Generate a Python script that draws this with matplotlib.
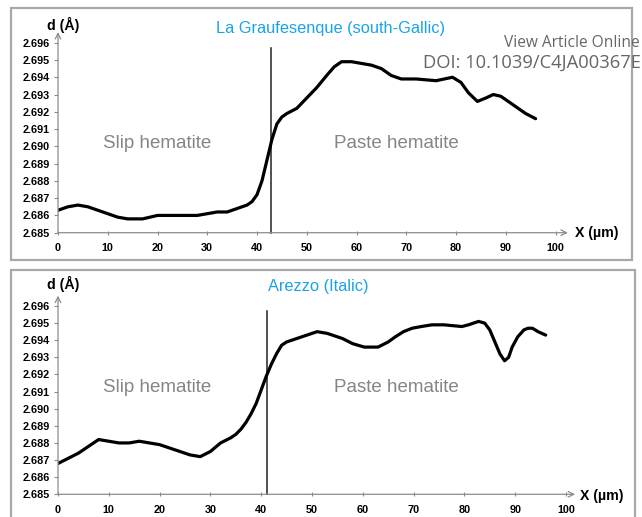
import matplotlib
matplotlib.use('Agg')
import matplotlib.pyplot as plt
from matplotlib.patches import Rectangle

plt.rcParams['font.family'] = ['Liberation Sans', 'DejaVu Sans']

# La Graufesenque (south-Gallic)
x_top = [0, 2, 4, 6, 8, 10, 12, 14, 17, 20, 24, 28, 30, 32, 34, 36, 38, 39, 40,
         41, 42, 43, 44, 45, 46, 48, 50, 52, 54, 55.5, 57, 59, 61, 63, 65, 67,
         69, 72, 76, 79.3, 81, 82.5, 84.3, 86, 87.5, 89, 90.5, 92, 94, 96]
d_top = [2.6863, 2.6865, 2.6866, 2.6865, 2.6863, 2.6861, 2.6859, 2.6858, 2.6858,
         2.6860, 2.6860, 2.6860, 2.6861, 2.6862, 2.6862, 2.6864, 2.6866, 2.6868, 2.6872,
         2.6880, 2.6892, 2.6904, 2.6913, 2.6917, 2.6919, 2.6922, 2.6928, 2.6934, 2.6941,
         2.6946, 2.6949, 2.6949, 2.6948, 2.6947, 2.6945, 2.6941,
         2.6939, 2.6939, 2.6938, 2.6940, 2.6937, 2.6931, 2.6926, 2.6928, 2.6930,
         2.6929, 2.6926, 2.6923, 2.6919, 2.6916]

# Arezzo (Italic)
x_bot = [0, 2, 4, 6, 8, 10, 12, 14, 16, 18, 20, 22, 24, 26, 28, 30, 32, 34, 35,
         36, 37, 38, 39, 40, 41, 42, 43, 44, 45, 47, 49, 51, 53, 56, 58, 60.3, 63,
         65, 66.4, 68, 69.7, 71.5, 73.6, 76, 79.5, 80.8, 82.8, 84, 85, 86, 87,
         87.9, 88.7, 89.4, 90.5, 91.7, 92.5, 93.4, 94.5, 96]
d_bot = [2.6868, 2.6871, 2.6874, 2.6878, 2.6882, 2.6881, 2.6880, 2.6880, 2.6881,
         2.6880, 2.6879, 2.6877, 2.6875, 2.6873, 2.6872, 2.6875, 2.6880, 2.6883, 2.6885,
         2.6888, 2.6892, 2.6897, 2.6903, 2.6911, 2.6919, 2.6926, 2.6932, 2.6937, 2.6939,
         2.6941, 2.6943, 2.6945, 2.6944, 2.6941, 2.6938, 2.6936, 2.6936,
         2.6939, 2.6942, 2.6945, 2.6947, 2.6948, 2.6949, 2.6949, 2.6948, 2.6949, 2.6951,
         2.6950, 2.6946, 2.6939, 2.6932,
         2.6928, 2.6930, 2.6936, 2.6942, 2.6946, 2.6947, 2.6947, 2.6945, 2.6943]

boundaries = [42.8, 41.2]
titles = ['La Graufesenque (south-Gallic)', 'Arezzo (Italic)']
yticks = [2.685 + 0.001 * i for i in range(12)]
xticks = list(range(0, 101, 10))

W, H = 642, 517
fig = plt.figure(figsize=(W / 100, H / 100), dpi=100)

def px(x0, y0, x1, y1):
    # pixel box (top-left origin) -> figure fraction
    return [x0 / W, 1 - y1 / H, (x1 - x0) / W, (y1 - y0) / H]

# panel frames
for (x0, y0, x1, y1) in [(11, 8, 632, 260), (11, 270, 635, 530)]:
    fig.patches.append(Rectangle((x0 / W, 1 - y1 / H), (x1 - x0) / W, (y1 - y0) / H,
                                 transform=fig.transFigure, fill=False,
                                 edgecolor='#a8a8a8', lw=1.6))

panels = [
    dict(box=(58, 42.7, 555.5, 232.7), x=x_top, d=d_top, xtip=1.025, ytip=1.056,
         title_x=331, title_y=28, text_y=143, dlab_y=25, xlab=(597, 233)),
    dict(box=(58, 306, 566, 494.3), x=x_bot, d=d_bot, xtip=1.018, ytip=1.055,
         title_x=318, title_y=287, text_y=387, dlab_y=284, xlab=(602, 496)),
]

grey = '#8c8c8c'
for i, p in enumerate(panels):
    ax = fig.add_axes(px(*p['box']))
    ax.plot(p['x'], p['d'], color='black', lw=2.3, solid_joinstyle='round',
            solid_capstyle='round', zorder=3)
    ax.plot([boundaries[i], boundaries[i]], [2.685, 2.6957], color='#222222', lw=1.1,
            clip_on=False)
    ax.set_xlim(0, 100)
    ax.set_ylim(2.685, 2.696)
    ax.set_xticks(xticks)
    ax.set_yticks(yticks)
    ax.set_yticklabels(['%.3f' % v for v in yticks])
    for s in ax.spines.values():
        s.set_visible(False)
    ax.patch.set_visible(False)
    ax.tick_params(axis='y', direction='out', length=3, width=0.8, color=grey, pad=3,
                   labelsize=7.8)
    ax.tick_params(axis='x', direction='inout', length=3, width=0.8, color=grey, pad=6,
                   labelsize=7.8)
    for lab in ax.get_xticklabels() + ax.get_yticklabels():
        lab.set_fontweight('bold')
    # axis arrows
    ax.annotate('', xy=(0, p['ytip']), xytext=(0, 0), xycoords='axes fraction',
                arrowprops=dict(arrowstyle='->', color=grey, lw=0.9, shrinkA=0, shrinkB=0))
    ax.annotate('', xy=(p['xtip'], 0), xytext=(0, 0), xycoords='axes fraction',
                arrowprops=dict(arrowstyle='->', color=grey, lw=0.9, shrinkA=0, shrinkB=0))

    fig.text(63 / W, 1 - p['dlab_y'] / H, 'd (Å)', fontsize=10.2, fontweight='bold',
             ha='center', va='center')
    fig.text(p['xlab'][0] / W, 1 - p['xlab'][1] / H, 'X (µm)', fontsize=10.2,
             fontweight='bold', ha='center', va='center')
    fig.text(p['title_x'] / W, 1 - p['title_y'] / H, titles[i], fontsize=11.8,
             color='#1aa3e8', ha='center', va='center')
    fig.text(157 / W, 1 - p['text_y'] / H, 'Slip hematite', fontsize=13.5,
             color='#858585', ha='center', va='center')
    fig.text(396 / W, 1 - p['text_y'] / H, 'Paste hematite', fontsize=13.5,
             color='#858585', ha='center', va='center')

fig.text(640 / W, 1 - 43 / H, 'View Article Online', fontsize=11.2, color='#666666',
         family='Open Sans', ha='right', va='center')
fig.text(641 / W, 1 - 63 / H, 'DOI: 10.1039/C4JA00367E', fontsize=13.2, color='#666666',
         family='Open Sans', ha='right', va='center')

fig.savefig('out.png', dpi=100)
